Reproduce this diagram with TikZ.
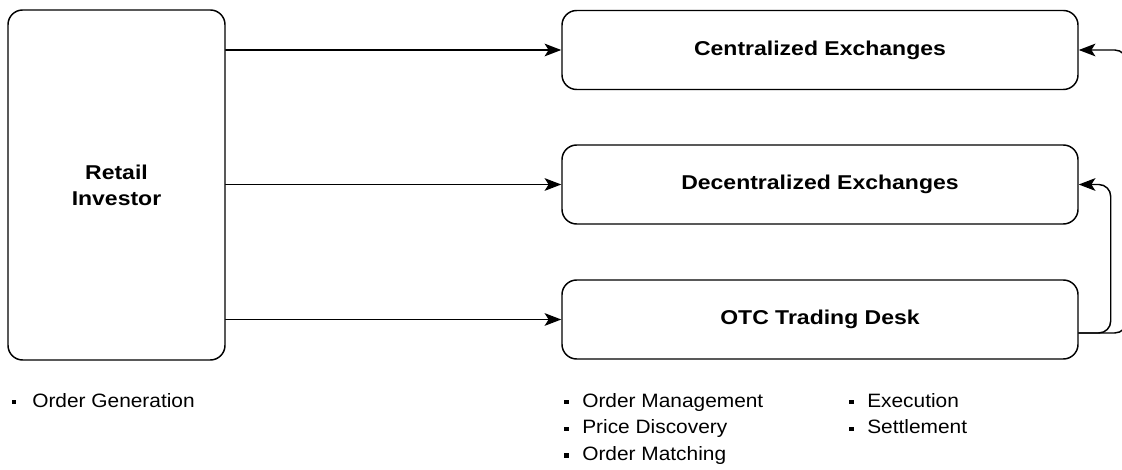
\documentclass[tikz,border=0pt]{standalone}
\usepackage{fontspec}
\setmainfont{Liberation Sans}[FakeStretch=1.08,BoldFeatures={FakeStretch=1.15}]
\usepackage{tikz}
\usetikzlibrary{arrows.meta,calc}

\begin{document}
\begin{tikzpicture}[line cap=round,line join=round,x=0.75pt,y=-0.75pt,
    box/.style={draw,line width=1.1pt,rounded corners=11pt,align=center,inner sep=0pt,
        font=\fontsize{15pt}{19.5pt}\selectfont\bfseries},
    link/.style={line width=1.1pt,-{Stealth[length=12.5pt,width=9.5pt,inset=3pt]}},
    item/.style={anchor=base west,inner sep=0pt,font=\fontsize{14.5pt}{16pt}\selectfont},
    dot/.style={fill=black,inner sep=0pt,minimum size=3.3pt}]
                \path[use as bounding box] (0,0) rectangle (1122,470);
                \clip (0,0) rectangle (1122,470);
                \node[box,minimum width=162.75pt,minimum height=262.5pt] (retail) at (116.5,185) {Retail\\Investor};
                \node[box,minimum width=387pt,minimum height=59.25pt] (cex) at (820,50) {Centralized Exchanges};
                \node[box,minimum width=387pt,minimum height=59.25pt] (dex) at (820,184.5) {Decentralized Exchanges};
                \node[box,minimum width=387pt,minimum height=59.25pt] (otc) at (820,319.5) {OTC Trading Desk};
                \draw [link] (retail.east |- cex.west) -- (cex.west);
                \draw [link] (retail.east |- dex.west) -- (dex.west);
                \draw [link] (retail.east |- otc.west) -- (otc.west);
                \coordinate (otcout) at ($(otc.east)+(0,13.5)$);
                \draw [link,rounded corners=9pt] (otcout) -| ($(dex.east)+(32,0)$) -- (dex.east);
                \draw [link,rounded corners=9pt] (otcout) -| ($(cex.east)+(48,0)$) -- (cex.east);
                \node[dot] (b1) at (14,402) {};
                \node[item] (t1) at (32,407) {Order Generation};
                \node[dot] (b2) at (566.5,402) {};
                \node[item] (t2) at (582,407) {Order Management};
                \node[dot] (b3) at (566.5,429) {};
                \node[item] (t3) at (582,433.5) {Price Discovery};
                \node[dot] (b4) at (566.5,455.5) {};
                \node[item] (t4) at (582,460) {Order Matching};
                \node[dot] (b5) at (851.5,402) {};
                \node[item] (t5) at (867,407) {Execution};
                \node[dot] (b6) at (851.5,429) {};
                \node[item] (t6) at (867,433.5) {Settlement};
            \end{tikzpicture}
\end{document}
